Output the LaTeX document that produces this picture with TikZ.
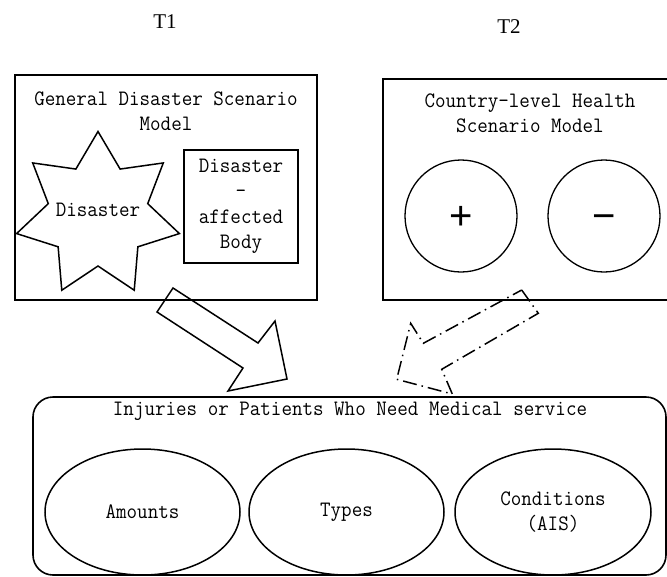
\documentclass[tikz,border=0pt]{standalone}
\usepackage{fontspec}
\usetikzlibrary{shapes.geometric}
\newfontfamily\diafont[FakeStretch=0.93]{Latin Modern Mono}
\newfontfamily\tagfont{Liberation Serif}
\newfontfamily\signfont{Liberation Sans}
\begin{document}
\begin{tikzpicture}[x=1pt, y=-1pt,
  every node/.style={inner sep=0pt, outer sep=0pt, align=center,
    font=\diafont\fontsize{22}{25.5}\selectfont},
  frame/.style={draw, line width=1.6pt},
  shape line/.style={draw, line width=1.5pt},
  tag/.style={font=\tagfont\fontsize{21}{21}\selectfont},
  sign/.style={font=\signfont\fontsize{40}{40}\selectfont,
    text height=27pt, text depth=0pt},
  blockarrow/.style={draw, line width=1.5pt, line join=miter},
  dashdot/.style={dash pattern=on 14pt off 5pt on 1.5pt off 5pt}]
\useasboundingbox (0,0) rectangle (667,576);

% time labels
\node[tag] (t1) at (165,22) {T1};
\node[tag] (t2) at (509,27) {T2};

% general disaster scenario model
\draw[frame] (15,75) rectangle (317,300);
\node (gtitle) at (166,111) {General Disaster Scenario\\Model};
% seven-pointed star: outer radius 83.5, inner radius 51
\coordinate (disaster) at (98,215);
\draw[shape line, line join=miter, shift={(disaster)}] (-90:83.5)
  \foreach \i in {1,...,13}{ -- ({-90-\i*360/14}:{ifthenelse(isodd(\i),51,83.5)}) }
  -- cycle;
\node (disastertext) at (98,210) {Disaster};
\node[rectangle, shape line, minimum width=114pt, minimum height=113pt]
      (body) at (241,206.5) {Disaster\\-\\affected\\Body};

% country-level health scenario model
\draw[frame] (667,79) -- (383,79) -- (383,300) -- (667,300);
\node (htitle) at (530,113.5) {Country-level Health\\Scenario Model};
\node[circle, shape line, line width=1.3pt, minimum size=112pt, sign]
      (plus) at (461,216) {+};
\node[circle, shape line, line width=1.3pt, minimum size=112pt, sign]
      (minus) at (604,216) {\char"2212};

% injuries or patients
\node[rectangle, rounded corners=20pt, frame, minimum width=633pt,
      minimum height=178pt] (patients) at (349.5,486) {};
\node (ptitle) at (350,411) {Injuries or Patients Who Need Medical service};
\node[ellipse, shape line, minimum width=195pt, minimum height=126pt]
      (amounts) at (142.5,512) {Amounts};
\node[ellipse, shape line, minimum width=195pt, minimum height=126pt]
      (types) at (346.5,512) {Types};
\node[ellipse, shape line, minimum width=196pt, minimum height=126pt]
      (conditions) at (553,512) {Conditions\\(AIS)};

% solid block arrow from the disaster model
\coordinate (sa1) at (173,288);
\coordinate (sa2) at (258,343);
\coordinate (sa3) at (275,321);
\coordinate (satip) at (287,379);
\coordinate (sa5) at (228,391);
\coordinate (sa6) at (243,368);
\coordinate (sa7) at (157,312);
\draw[blockarrow] (sa1) -- (sa2) -- (sa3) -- (satip) -- (sa5) -- (sa6)
  -- (sa7) -- cycle;

% dash-dotted block arrow from the health model
\coordinate (da1) at (521.7,290);
\coordinate (da2) at (538.3,313.3);
\coordinate (da3) at (441.7,369.3);
\coordinate (da4) at (452.3,394);
\coordinate (datip) at (396.7,379.3);
\coordinate (da6) at (410.7,323.3);
\coordinate (da7) at (423.3,343.3);
\draw[blockarrow, dashdot] (da1) -- (da2) -- (da3) -- (da4) -- (datip)
  -- (da6) -- (da7) -- cycle;
\end{tikzpicture}
\end{document}
